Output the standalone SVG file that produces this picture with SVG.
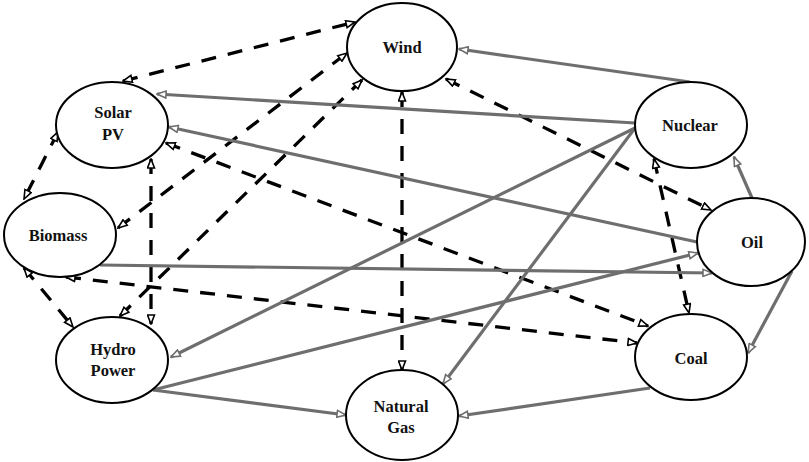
<svg xmlns="http://www.w3.org/2000/svg" width="809" height="462" viewBox="0 0 809 462">
<defs>
<style>
.node ellipse{fill:#fff;stroke:#000;stroke-width:2}
.node text{font-family:"Liberation Serif","Times New Roman",serif;font-weight:bold;font-size:16.5px;text-anchor:middle;fill:#111}
.dash{stroke:#000;stroke-width:3.3;fill:none;stroke-dasharray:15 12;marker-start:url(#ab);marker-end:url(#ab)}
.solid{stroke:#6e6e6e;stroke-width:3.2;fill:none;marker-end:url(#ag)}
</style>
<marker id="ab" viewBox="0 0 11 9" refX="10" refY="4.5" markerWidth="11" markerHeight="9" markerUnits="userSpaceOnUse" orient="auto-start-reverse">
<path d="M1,1 L10,4.5 L1,8 Z" fill="#fff" stroke="#000" stroke-width="1.6"/>
</marker>
<marker id="ag" viewBox="0 0 11 9" refX="10" refY="4.5" markerWidth="11" markerHeight="9" markerUnits="userSpaceOnUse" orient="auto">
<path d="M1,1 L10,4.5 L1,8 Z" fill="#fff" stroke="#6e6e6e" stroke-width="1.6"/>
</marker>
</defs>
<rect width="809" height="462" fill="#fff"/>
<g id="connectors">
<line class="dash" x1="123" y1="81" x2="355" y2="22"/>
<line class="dash" x1="118" y1="228" x2="347" y2="53"/>
<line class="dash" x1="120" y1="316" x2="362" y2="80"/>
<line class="dash" x1="402" y1="92" x2="402" y2="370"/>
<line class="dash" x1="446" y1="79" x2="711" y2="210"/>
<line class="dash" x1="58" y1="132" x2="24" y2="199"/>
<line class="dash" x1="151" y1="159" x2="151" y2="324"/>
<line class="dash" x1="166" y1="143" x2="648" y2="326"/>
<line class="dash" x1="24" y1="268" x2="73" y2="327"/>
<line class="dash" x1="66" y1="277" x2="637" y2="343"/>
<line class="dash" x1="654" y1="159" x2="689" y2="313"/>
<line class="solid" x1="690" y1="82" x2="459" y2="49"/>
<line class="solid" x1="635" y1="123" x2="157" y2="94"/>
<line class="solid" x1="697" y1="242" x2="169" y2="127"/>
<line class="solid" x1="100" y1="265" x2="712" y2="273"/>
<line class="solid" x1="153" y1="390" x2="698" y2="253"/>
<line class="solid" x1="635" y1="128" x2="171" y2="357"/>
<line class="solid" x1="635" y1="128" x2="443" y2="384"/>
<line class="solid" x1="153" y1="390" x2="346" y2="415"/>
<line class="solid" x1="650" y1="388" x2="459" y2="416"/>
<line class="solid" x1="752" y1="198" x2="734" y2="157"/>
<line class="solid" x1="792" y1="271" x2="748" y2="353"/>
</g>
<g id="wind" class="node"><ellipse cx="402" cy="47" rx="55" ry="44"/><text x="402" y="53">Wind</text></g>
<g id="solar-pv" class="node"><ellipse cx="112" cy="125" rx="56" ry="43"/><text x="113" y="118">Solar</text><text x="113" y="140">PV</text></g>
<g id="biomass" class="node"><ellipse cx="60" cy="235" rx="56" ry="42"/><text x="58" y="241">Biomass</text></g>
<g id="hydro-power" class="node"><ellipse cx="112" cy="360" rx="56" ry="43"/><text x="113" y="355">Hydro</text><text x="113" y="376">Power</text></g>
<g id="natural-gas" class="node"><ellipse cx="402" cy="415" rx="56" ry="45"/><text x="401" y="412">Natural</text><text x="401" y="433">Gas</text></g>
<g id="nuclear" class="node"><ellipse cx="691" cy="125" rx="56" ry="43"/><text x="690" y="131">Nuclear</text></g>
<g id="oil" class="node"><ellipse cx="751" cy="242" rx="54" ry="44"/><text x="752" y="248">Oil</text></g>
<g id="coal" class="node"><ellipse cx="691" cy="357" rx="56" ry="43"/><text x="691" y="364">Coal</text></g>
</svg>
